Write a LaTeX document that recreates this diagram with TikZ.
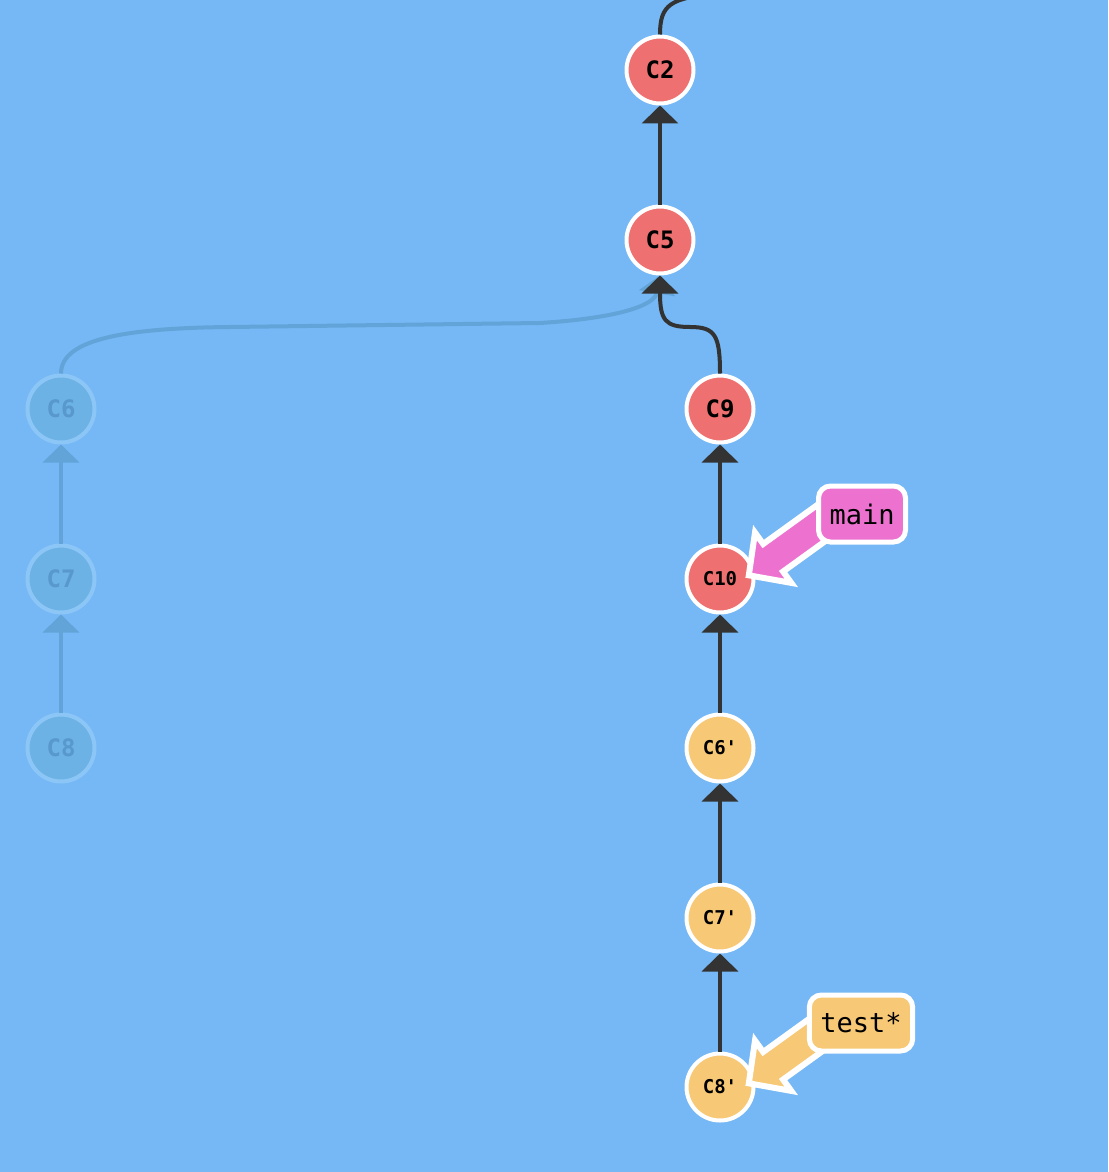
\documentclass[tikz,border=0pt]{standalone}
\usepackage{fontspec}
\setmonofont{DejaVu Sans Mono}
\usepackage{xcolor}
\usetikzlibrary{arrows.meta,calc,positioning}
\newcommand{\mypx}{0.5pt}
\newcommand{\csize}{33.5pt}
\definecolor{bgblue}{RGB}{117,184,245}
\definecolor{redc}{RGB}{239,112,112}
\definecolor{orc}{RGB}{247,200,118}
\definecolor{pinkc}{RGB}{237,114,208}
\definecolor{edgec}{RGB}{51,51,51}
\definecolor{ghfill}{RGB}{108,178,228}
\definecolor{ghring}{RGB}{140,198,246}
\definecolor{ghtext}{RGB}{88,152,204}
\definecolor{ghedge}{RGB}{98,163,216}
\tikzset{
    csty/.style={circle,draw=white,line width=2pt,minimum size=\csize,inner sep=0pt,outer sep=1pt,font=\ttfamily\bfseries\fontsize{12}{14}\selectfont},
    smallsty/.style={font=\ttfamily\bfseries\fontsize{9.5}{11}\selectfont},
    redcsty/.style={csty,fill=redc},
    orcsty/.style={csty,fill=orc,smallsty},
    ghcsty/.style={csty,fill=ghfill,draw=ghring,text=ghtext},
    edgesty/.style={draw=edgec,line width=2pt,-{Triangle[width=18pt,length=9pt]}},
    ghedgesty/.style={edgesty,draw=ghedge},
    lblsty/.style={draw=white,line width=2.5pt,rounded corners=6pt,minimum height=28pt,inner xsep=5.5pt,font=\ttfamily\fontsize{13.5}{16}\selectfont},
    brsty/.style={draw=white,line width=3pt,line join=miter,miter limit=20},
}

\begin{document}
\begin{tikzpicture}[x=\mypx,y=-\mypx]
\useasboundingbox (0,0) rectangle (1108,1172);
\fill[bgblue] (0,0) rectangle (1108,1172);
\clip (0,0) rectangle (1108,1172);

% commits on main
\node[redcsty] (C2) at (660,70) {C2};
\node[redcsty] (C5) at (660,240) {C5};
\node[redcsty] (C9) at (720,409) {C9};
\node[redcsty,smallsty] (C10) at (720,579) {C10};
\node[orcsty] (C6p) at (720,748) {C6'};
\node[orcsty] (C7p) at (720,918) {C7'};
\node[orcsty] (C8p) at (720,1087) {C8'};
% old commits
\node[ghcsty] (C6) at (61,409) {C6};
\node[ghcsty] (C7) at (61,579) {C7};
\node[ghcsty] (C8) at (61,748) {C8};
\coordinate (up) at (760,-6);

\draw[ghedgesty] (C6.north) .. controls (61,338) and (130,328) .. (230,327) -- (540,323) .. controls (620,318) and (655,305) .. (C5.south);
\draw[edgesty] (C9.north) .. controls (720,335) and (715,327) .. (690,327) .. controls (665,327) and (660,320) .. (C5.south);
\draw[draw=edgec,line width=2pt] (C2.north) .. controls (660,5) and (670,-3) .. (720,-6) -- (up);
\foreach \a/\b in {C5/C2,C10/C9,C6p/C10,C7p/C6p,C8p/C7p}
  \draw[edgesty] (\a) -- (\b);
\foreach \a/\b in {C7/C6,C8/C7}
  \draw[ghedgesty] (\a) -- (\b);

% branch arrows
\begin{scope}[shift={($(C10)+(28.8,-3.7)$)},rotate=35.8]
\filldraw[brsty,fill=pinkc] (0,0) -- (30,31) -- (30,17) -- (105,17) -- (105,-17) -- (30,-17) -- (30,-31) -- cycle;
\end{scope}
\begin{scope}[shift={($(C8p)+(28.8,-3.7)$)},rotate=35.8]
\filldraw[brsty,fill=orc] (0,0) -- (30,31) -- (30,17) -- (105,17) -- (105,-17) -- (30,-17) -- (30,-31) -- cycle;
\end{scope}
\node[lblsty,fill=pinkc] (mainlbl) at (862,514) {main};
\node[lblsty,fill=orc] (testlbl) at (861,1023) {test*};

\end{tikzpicture}
\end{document}
